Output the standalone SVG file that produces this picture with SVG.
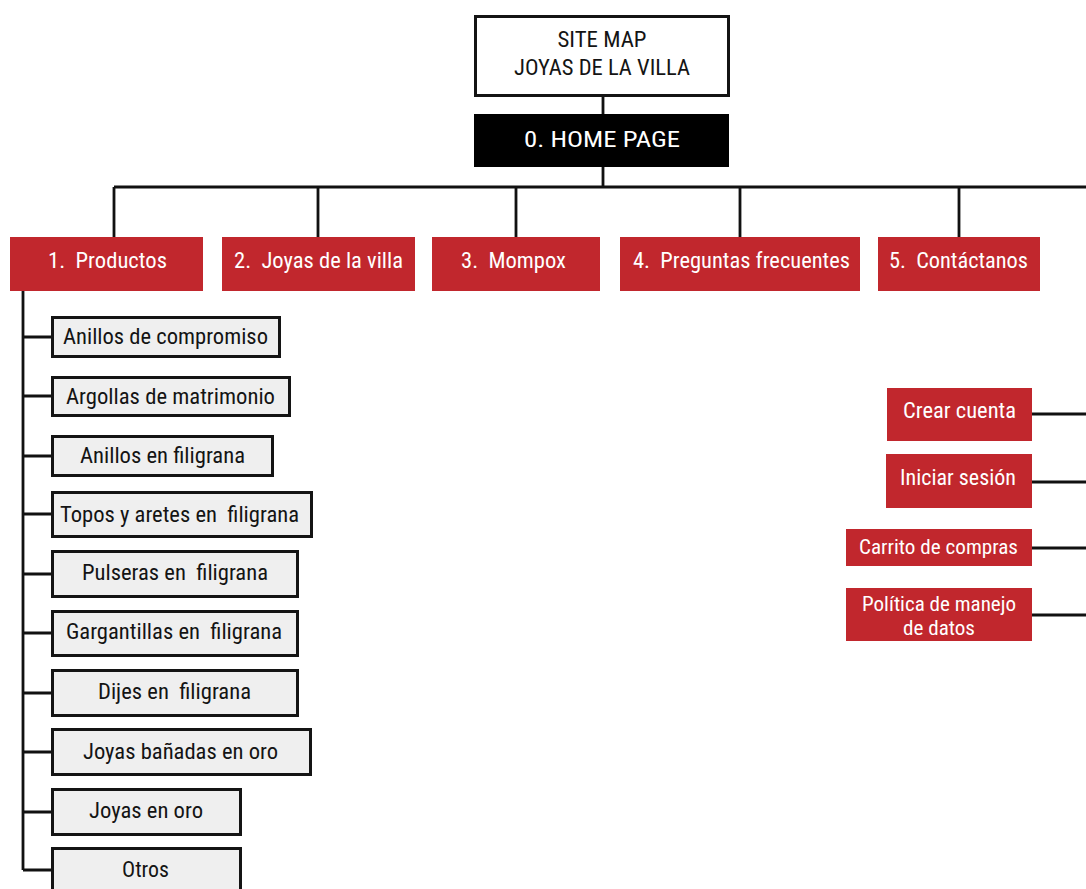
<svg xmlns="http://www.w3.org/2000/svg" width="1086" height="889" viewBox="0 0 1086 889">
<style>
text{font-family:"Roboto Condensed",Roboto,"Liberation Sans",sans-serif;white-space:pre;}
.red{fill:#c1272d;}
.wt{fill:#ffffff;font-size:22px;text-anchor:middle;}
.wts{fill:#ffffff;font-size:20px;text-anchor:middle;}
.sub{fill:#efefef;stroke:#141414;stroke-width:3;}
.bt{fill:#141414;font-size:22px;text-anchor:middle;}
.conn{stroke:#111;stroke-width:2.8;fill:none;}
</style>
<rect width="1086" height="889" fill="#ffffff"/>
<g id="connectors">
<path class="conn" d="M603 97V114M603 167V187M114 187H1086M114 187V237M318 187V237M516 187V237M740 187V237M959 187V237"/>
<path class="conn" d="M23 291V870M23 337H51M23 396H51M23 456H51M23 514H51M23 574H51M23 633H51M23 693H51M23 752H51M23 812H51M23 870H51"/>
<path class="conn" d="M1032 414H1086M1032 482H1086M1032 548H1086M1032 615H1086"/>
</g>
<g id="sitemap">
<rect x="475.5" y="16.5" width="253" height="79" fill="#ffffff" stroke="#141414" stroke-width="3"/>
<text x="602" y="47" class="bt" font-size="21" textLength="89" lengthAdjust="spacingAndGlyphs">SITE MAP</text>
<text x="602" y="75" class="bt" font-size="21" textLength="176" lengthAdjust="spacingAndGlyphs">JOYAS DE LA VILLA</text>
</g>
<g id="home">
<rect x="474" y="114" width="255" height="53" fill="#000000"/>
<text x="602" y="147" class="wt" font-size="27" textLength="156" lengthAdjust="spacingAndGlyphs">0. HOME PAGE</text>
</g>
<g id="productos">
<rect class="red" x="10" y="237" width="193" height="54"/>
<text x="107.5" y="268" class="wt" textLength="119" lengthAdjust="spacingAndGlyphs">1.  Productos</text>
</g>
<g id="joyas">
<rect class="red" x="222" y="237" width="193" height="54"/>
<text x="318.5" y="268" class="wt" textLength="169" lengthAdjust="spacingAndGlyphs">2.  Joyas de la villa</text>
</g>
<g id="mompox">
<rect class="red" x="432" y="237" width="168" height="54"/>
<text x="513.5" y="268" class="wt" textLength="105" lengthAdjust="spacingAndGlyphs">3.  Mompox</text>
</g>
<g id="preguntas">
<rect class="red" x="620" y="237" width="240" height="54"/>
<text x="741.5" y="268" class="wt" textLength="217" lengthAdjust="spacingAndGlyphs">4.  Preguntas frecuentes</text>
</g>
<g id="contactanos">
<rect class="red" x="878" y="237" width="162" height="54"/>
<text x="958.5" y="268" class="wt" textLength="139" lengthAdjust="spacingAndGlyphs">5.  Contáctanos</text>
</g>
<g id="sub1"><rect class="sub" x="52.5" y="317.5" width="227" height="39"/><text x="165.5" y="344" class="bt" textLength="205" lengthAdjust="spacingAndGlyphs">Anillos de compromiso</text></g>
<g id="sub2"><rect class="sub" x="52.5" y="377.5" width="237" height="38"/><text x="170.5" y="404" class="bt" textLength="209" lengthAdjust="spacingAndGlyphs">Argollas de matrimonio</text></g>
<g id="sub3"><rect class="sub" x="52.5" y="436.5" width="220" height="39"/><text x="162.5" y="463" class="bt" textLength="165" lengthAdjust="spacingAndGlyphs">Anillos en filigrana</text></g>
<g id="sub4"><rect class="sub" x="52.5" y="492.5" width="259" height="44"/><text x="179.5" y="522" class="bt" textLength="239" lengthAdjust="spacingAndGlyphs">Topos y aretes en  filigrana</text></g>
<g id="sub5"><rect class="sub" x="52.5" y="551.5" width="245" height="45"/><text x="175" y="580" class="bt" textLength="186" lengthAdjust="spacingAndGlyphs">Pulseras en  filigrana</text></g>
<g id="sub6"><rect class="sub" x="52.5" y="611.5" width="245" height="44"/><text x="174" y="639" class="bt" textLength="216" lengthAdjust="spacingAndGlyphs">Gargantillas en  filigrana</text></g>
<g id="sub7"><rect class="sub" x="52.5" y="670.5" width="245" height="45"/><text x="174.5" y="699" class="bt" textLength="153" lengthAdjust="spacingAndGlyphs">Dijes en  filigrana</text></g>
<g id="sub8"><rect class="sub" x="52.5" y="729.5" width="258" height="45"/><text x="180.5" y="759" class="bt" textLength="195" lengthAdjust="spacingAndGlyphs">Joyas bañadas en oro</text></g>
<g id="sub9"><rect class="sub" x="52.5" y="789.5" width="188" height="45"/><text x="146" y="818" class="bt" textLength="114" lengthAdjust="spacingAndGlyphs">Joyas en oro</text></g>
<g id="sub10"><rect class="sub" x="52.5" y="848.5" width="188" height="48"/><text x="145.5" y="877" class="bt" textLength="47" lengthAdjust="spacingAndGlyphs">Otros</text></g>
<g id="crear"><rect class="red" x="887" y="388" width="145" height="53"/><text x="959.5" y="418" class="wt" font-size="21" textLength="113" lengthAdjust="spacingAndGlyphs">Crear cuenta</text></g>
<g id="iniciar"><rect class="red" x="886" y="454" width="146" height="54"/><text x="958" y="485" class="wt" font-size="21" textLength="116" lengthAdjust="spacingAndGlyphs">Iniciar sesión</text></g>
<g id="carrito"><rect class="red" x="846" y="529" width="186" height="37"/><text x="938.5" y="554" class="wts" textLength="159" lengthAdjust="spacingAndGlyphs">Carrito de compras</text></g>
<g id="politica"><rect class="red" x="846" y="588" width="186" height="53"/><text x="939" y="611" class="wts" textLength="154" lengthAdjust="spacingAndGlyphs">Política de manejo</text><text x="939" y="635" class="wts" textLength="72" lengthAdjust="spacingAndGlyphs">de datos</text></g>
</svg>
